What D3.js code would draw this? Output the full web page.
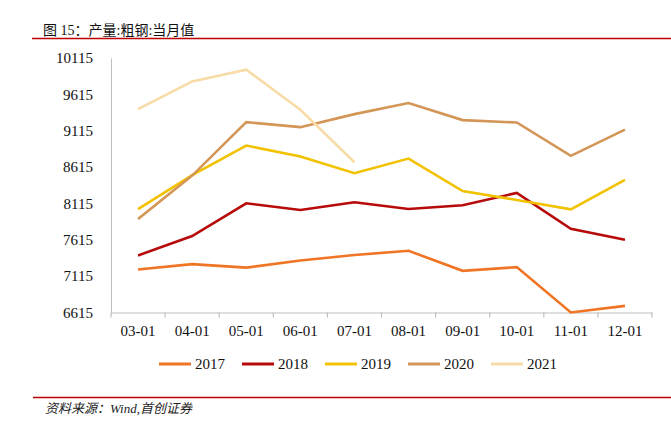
<!DOCTYPE html>
<html>
<head>
<meta charset="utf-8">
<script src="https://cdn.jsdelivr.net/npm/d3@7"></script>
<style>
  body { margin: 0; background: #fff; }
  svg { display: block; }
</style>
</head>
<body>
<svg id="chart" width="671" height="425"></svg>
<script>
const months = ['03-01', '04-01', '05-01', '06-01', '07-01', '08-01', '09-01', '10-01', '11-01', '12-01'];
const yTicks = [6615, 7115, 7615, 8115, 8615, 9115, 9615, 10115];

const years = ['2017', '2018', '2019', '2020', '2021'];
const v2017 = [7207, 7280, 7232, 7331, 7405, 7464, 7188, 7239, 6615, 6706];
const v2018 = [7400, 7666, 8117, 8025, 8131, 8038, 8089, 8259, 7767, 7615];
const v2019 = [8038, 8505, 8911, 8759, 8530, 8732, 8286, 8163, 8034, 8438];
const v2020 = [7900, 8498, 9233, 9164, 9343, 9495, 9261, 9228, 8769, 9131];
const v2021 = [9412, 9793, 9954, 9403, 8682];
const colors = ['#ef7524', '#b70a0a', '#f2c200', '#d39656', '#f8dca8'];

const series = [v2017, v2018, v2019, v2020, v2021];

const svg = d3.select('#chart');
const serif = "'Liberation Serif', 'Times New Roman', serif";

// header
svg.append('text')
  .attr('x', 43).attr('y', 35)
  .style('font-family', "'Liberation Serif', 'Noto Sans CJK SC'")
  .style('font-size', '14px')
  .attr('fill', '#111')
  .text('图 15：产量:粗钢:当月值');
svg.append('line')
  .attr('x1', 32).attr('x2', 671).attr('y1', 38.5).attr('y2', 38.5)
  .attr('stroke', '#c00000').attr('stroke-width', 1.5);

// plot
const x = d3.scaleBand().domain(months).range([111, 652]);
const y = d3.scaleLinear().domain([6615, 10115]).range([312.5, 58]);

const gy = svg.append('g').attr('transform', `translate(${x.range()[0]},0)`)
  .call(d3.axisLeft(y).tickValues(yTicks).tickSize(0).tickPadding(18).tickFormat(d => d));
gy.select('.domain').attr('stroke', '#bfbfbf');
gy.selectAll('text').style('font-family', serif).style('font-size', '15px').attr('fill', '#111');

const gx = svg.append('g').attr('transform', `translate(0,${y(6615)})`)
  .call(d3.axisBottom(x).tickSize(0).tickPadding(13));
gx.select('.domain').attr('stroke', '#bfbfbf').attr('stroke-width', 1.2);
gx.selectAll('text').style('font-family', serif).style('font-size', '15px').attr('fill', '#111');

// ticks sit on the band edges, not the centres
const edges = months.map(m => x(m)).concat([x(months[months.length - 1]) + x.bandwidth()]);
gx.selectAll('line.edge').data(edges).enter().append('line')
  .attr('class', 'edge')
  .attr('x1', d => d).attr('x2', d => d).attr('y1', 0).attr('y2', 5)
  .attr('stroke', '#bfbfbf').attr('stroke-width', 1.2);

const line = d3.line().x((d, i) => x(months[i]) + x.bandwidth() / 2).y(d => y(d));
svg.selectAll('path.series').data(series).enter().append('path')
  .attr('class', 'series')
  .attr('fill', 'none').attr('stroke', (d, i) => colors[i]).attr('stroke-width', 2.6)
  .attr('d', d => line(d));

// legend
const item = svg.append('g').attr('transform', 'translate(159,364)')
  .selectAll('g').data(years).enter().append('g')
  .attr('transform', (d, i) => `translate(${i * 83},0)`);
item.append('line').attr('x1', 0).attr('x2', 32)
  .attr('stroke', (d, i) => colors[i]).attr('stroke-width', 3);
item.append('text').attr('x', 36).attr('y', 5)
  .style('font-family', serif).style('font-size', '15px').attr('fill', '#111')
  .text(d => d);

// footer
svg.append('line')
  .attr('x1', 33).attr('x2', 671).attr('y1', 397.5).attr('y2', 397.5)
  .attr('stroke', '#c00000').attr('stroke-width', 1.5);
svg.append('text')
  .attr('x', 45).attr('y', 413)
  .style('font-family', "'Liberation Serif', 'Noto Sans CJK SC'")
  .style('font-style', 'italic').style('font-size', '13px')
  .attr('fill', '#222')
  .text('资料来源：Wind,首创证券');
</script>
</body>
</html>
